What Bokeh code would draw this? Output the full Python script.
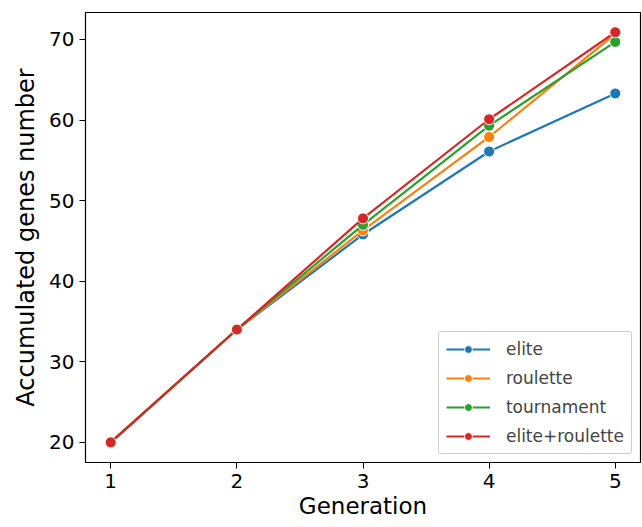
from bokeh.plotting import figure
from bokeh.models import Range1d, Legend, LegendItem, FixedTicker
from bokeh.embed import file_html
from bokeh.resources import INLINE

generations = [1, 2, 3, 4, 5]
elite = [20, 34, 45.8, 56.1, 63.3]
roulette = [20, 34, 46.3, 57.9, 70.7]
tournament = [20, 34, 47.0, 59.3, 69.7]
elite_roulette = [20, 34, 47.8, 60.1, 70.9]

series = [
    ("elite", elite, "#1f77b4"),
    ("roulette", roulette, "#ff7f0e"),
    ("tournament", tournament, "#2ca02c"),
    ("elite+roulette", elite_roulette, "#d62728"),
]

FONT = "DejaVu Sans"

p = figure(width=642, height=527, output_backend="svg", toolbar_location=None,
           x_range=Range1d(0.8, 5.2), y_range=Range1d(17.5, 73.35),
           min_border_left=85, min_border_right=2, min_border_top=12, min_border_bottom=65)
p.xgrid.visible = False
p.ygrid.visible = False
p.outline_line_color = "black"
p.outline_line_width = 1.2

items = []
for name, vals, col in series:
    l = p.line(generations, vals, line_color=col, line_width=2.2)
    c = p.scatter(generations, vals, size=11, fill_color=col, line_color="white", line_width=1)
    items.append(LegendItem(label=name, renderers=[l, c]))

legend = Legend(items=items, location="bottom_right")
legend.label_text_font = FONT
legend.label_text_font_size = "17px"
legend.glyph_width = 44
legend.glyph_height = 20
legend.spacing = 9
legend.padding = 7
legend.margin = 8
legend.label_standoff = 16
legend.border_line_color = "#cccccc"
legend.border_line_alpha = 1
legend.border_radius = 3
legend.background_fill_alpha = 0.8
p.add_layout(legend)

for ax in (p.xaxis[0], p.yaxis[0]):
    ax.major_label_text_font = FONT
    ax.major_label_text_font_size = "20px"
    ax.axis_label_text_font = FONT
    ax.axis_label_text_font_style = "normal"
    ax.major_tick_out = 6
    ax.major_tick_in = 0
    ax.minor_tick_out = 0
    ax.minor_tick_in = 0
    ax.axis_line_color = "black"
    ax.major_label_text_color = "black"
    ax.axis_label_text_color = "black"

p.xaxis.axis_label_text_font_size = "23px"
p.yaxis.axis_label_text_font_size = "24px"
p.xaxis.ticker = FixedTicker(ticks=generations)
p.yaxis.ticker = FixedTicker(ticks=[20, 30, 40, 50, 60, 70])
p.xaxis.axis_label = "Generation"
p.yaxis.axis_label = "Accumulated genes number"
p.xaxis.axis_label_standoff = 2
p.yaxis.axis_label_standoff = 6

open("out.html", "w").write(file_html(p, INLINE))
